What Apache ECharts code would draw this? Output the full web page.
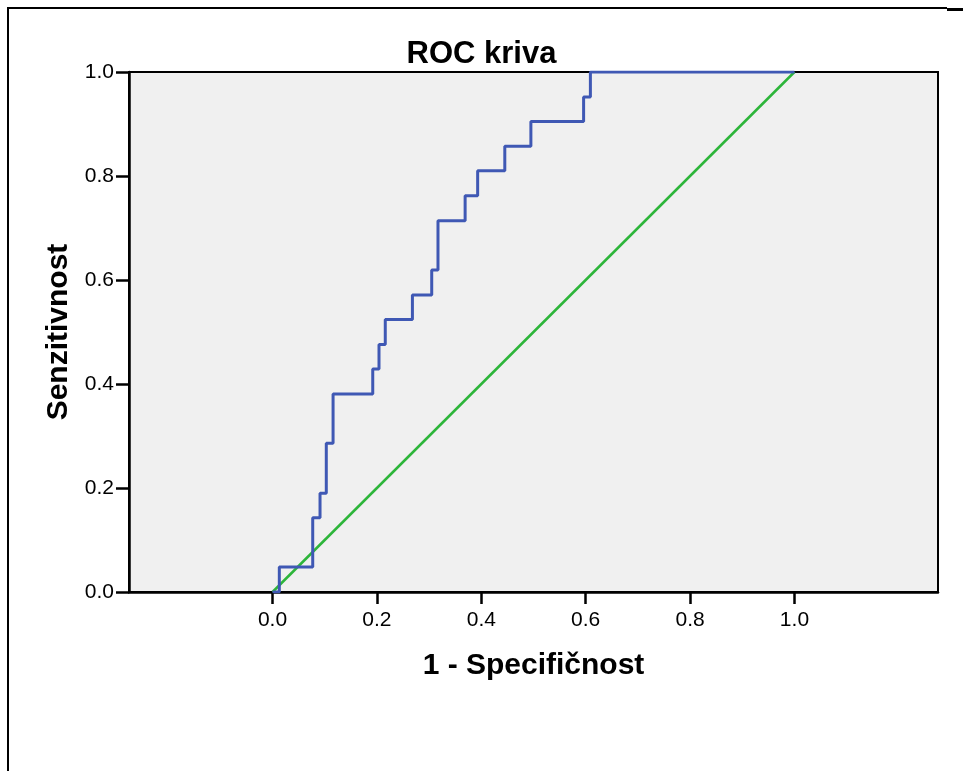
<!DOCTYPE html>
<html>
<head>
<meta charset="utf-8">
<script src="https://cdn.jsdelivr.net/npm/echarts@6/dist/echarts.min.js"></script>
<style>
html,body{margin:0;padding:0;background:#fff;}
#c{width:963px;height:771px;}
</style>
</head>
<body>
<div id="c"></div>
<script>
// ROC points (1 - specificity, sensitivity)
const fpr = [0, 0.013, 0.077, 0.091, 0.103, 0.116, 0.192, 0.204, 0.216, 0.268, 0.305, 0.317, 0.369, 0.393, 0.445, 0.495, 0.596, 0.609, 1.0];
const tpr = [0, 0.048, 0.143, 0.190, 0.286, 0.381, 0.429, 0.476, 0.524, 0.571, 0.619, 0.714, 0.762, 0.810, 0.857, 0.905, 0.952, 1.000, 1.0];
const refX = [0, 1];
const refY = [0, 1];
const xTicks = [0, 0.2, 0.4, 0.6, 0.8, 1.0];
const yTicks = [0, 0.2, 0.4, 0.6, 0.8, 1.0];

const FONT = '"Liberation Sans", Arial, sans-serif';
const chart = echarts.init(document.getElementById('c'), null, {renderer: 'canvas'});
chart.setOption({
  animation: false,
  backgroundColor: '#ffffff',
  title: {
    text: 'ROC kriva',
    left: 'center',
    top: 34,
    textStyle: {fontFamily: FONT, fontSize: 31, fontWeight: 'bold', color: '#000'}
  },
  grid: {
    left: 129, right: 25, top: 72, bottom: 179,
    show: true, backgroundColor: '#f0f0f0', borderColor: '#000', borderWidth: 2
  },
  xAxis: {
    type: 'value',
    min: -0.275, max: 1.275,
    name: '1 - Specifičnost',
    nameLocation: 'middle',
    nameGap: 59,
    nameTextStyle: {fontFamily: FONT, fontSize: 30, fontWeight: 'bold', color: '#000'},
    axisLine: {show: true, onZero: false, lineStyle: {color: '#000', width: 2.5}},
    axisTick: {show: true, length: 12, customValues: xTicks, lineStyle: {color: '#000', width: 2.5}},
    axisLabel: {show: true, customValues: xTicks, margin: 18, fontFamily: FONT, fontSize: 21, color: '#000',
      formatter: v => v.toFixed(1)},
    splitLine: {show: false}
  },
  yAxis: {
    type: 'value',
    min: 0, max: 1, interval: 0.2,
    name: 'Senzitivnost',
    nameLocation: 'middle',
    nameGap: 54,
    nameRotate: 90,
    nameTextStyle: {fontFamily: FONT, fontSize: 30, fontWeight: 'bold', color: '#000'},
    axisLine: {show: true, onZero: false, lineStyle: {color: '#000', width: 2.5}},
    axisTick: {show: true, length: 13, lineStyle: {color: '#000', width: 2.5}},
    axisLabel: {show: true, margin: 15, fontFamily: FONT, fontSize: 21, color: '#000',
      formatter: v => v.toFixed(1)},
    splitLine: {show: false}
  },
  series: [
    {
      type: 'line',
      data: refX.map((x, i) => [x, refY[i]]),
      symbol: 'none',
      lineStyle: {color: '#2db53a', width: 2.5},
      z: 2
    },
    {
      type: 'line',
      step: 'end',
      data: fpr.map((x, i) => [x, tpr[i]]),
      symbol: 'none',
      lineStyle: {color: '#3f58b4', width: 3},
      z: 3
    }
  ],
  graphic: [
    {type: 'line', shape: {x1: 8, y1: 8, x2: 947, y2: 8}, style: {stroke: '#000', lineWidth: 2}, z: 10},
    {type: 'line', shape: {x1: 947, y1: 9.5, x2: 963, y2: 9.5}, style: {stroke: '#000', lineWidth: 3}, z: 10},
    {type: 'line', shape: {x1: 8, y1: 7, x2: 8, y2: 771}, style: {stroke: '#000', lineWidth: 2}, z: 10}
  ]
});
</script>
</body>
</html>
